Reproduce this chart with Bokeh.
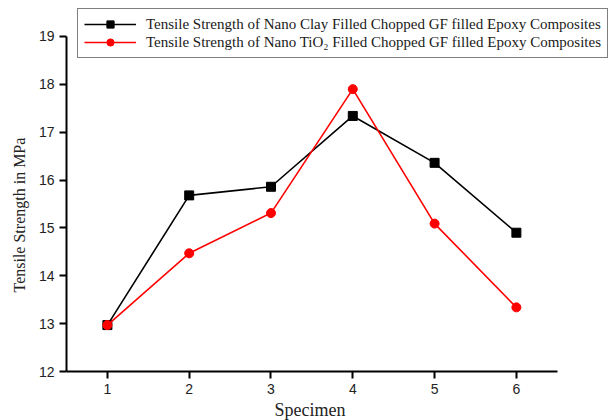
from bokeh.plotting import figure
from bokeh.models import Range1d, FixedTicker, Legend, LegendItem, Title
from bokeh.embed import file_html
from bokeh.resources import INLINE

specimen = [1, 2, 3, 4, 5, 6]
clay = [12.97, 15.68, 15.86, 17.34, 16.36, 14.90]
tio2 = [12.97, 14.47, 15.31, 17.90, 15.09, 13.34]
x_ticks = [1, 2, 3, 4, 5, 6]
y_ticks = [12, 13, 14, 15, 16, 17, 18, 19]
label_clay = "Tensile Strength of Nano Clay Filled Chopped GF filled Epoxy Composites"
label_tio2 = "Tensile Strength of Nano TiO\u2082 Filled Chopped GF filled Epoxy Composites"

p = figure(width=616, height=420, output_backend="svg", toolbar_location=None,
           x_range=Range1d(0.5, 7.224), y_range=Range1d(12, 19.585),
           min_border_left=66, min_border_right=0, min_border_top=8, min_border_bottom=49)
p.outline_line_color = None
p.grid.visible = False
p.background_fill_color = "white"

l1 = p.line(specimen, clay, line_color="black", line_width=1.6)
m1 = p.scatter(specimen, clay, marker="square", size=9, fill_color="black", line_color="black")
l2 = p.line(specimen, tio2, line_color="red", line_width=1.6)
m2 = p.scatter(specimen, tio2, marker="circle", size=9, fill_color="red", line_color="red")

for ax in (p.xaxis[0], p.yaxis[0]):
    ax.axis_line_width = 2
    ax.major_tick_line_width = 2
    ax.major_tick_in = 0
    ax.major_tick_out = 7
    ax.minor_tick_line_color = None
    ax.major_label_text_font = "Liberation Sans"
    ax.major_label_text_font_size = "14px"
    ax.major_label_text_color = "#222222"
    ax.major_label_standoff = 5

p.xaxis.bounds = (0.5, 6.5)
p.yaxis.bounds = (12, 19)
p.xaxis.ticker = FixedTicker(ticks=x_ticks)
p.yaxis.ticker = FixedTicker(ticks=y_ticks)

xt = Title(text="Specimen", align="left", offset=208, standoff=2,
           text_font="Liberation Serif", text_font_size="18px",
           text_font_style="normal", text_color="#222222")
p.add_layout(xt, "below")
yt = Title(text="Tensile Strength in MPa", align="left", offset=79, standoff=16,
           text_font="Liberation Serif", text_font_size="16px",
           text_font_style="normal", text_color="#222222")
p.add_layout(yt, "left")

legend = Legend(items=[LegendItem(label=label_clay, renderers=[l1, m1]),
                       LegendItem(label=label_tio2, renderers=[l2, m2])],
                location=(11, 313))
legend.label_text_font = "Liberation Serif"
legend.label_text_font_size = "15px"
legend.label_text_color = "#1a1a1a"
legend.glyph_width = 52
legend.glyph_height = 18
legend.label_height = 18
legend.label_standoff = 10
legend.border_line_color = "black"
legend.border_line_width = 1
legend.padding = 6
legend.spacing = 0
legend.margin = 0
legend.background_fill_alpha = 1
p.add_layout(legend)

open("out.html", "w").write(file_html(p, INLINE))
